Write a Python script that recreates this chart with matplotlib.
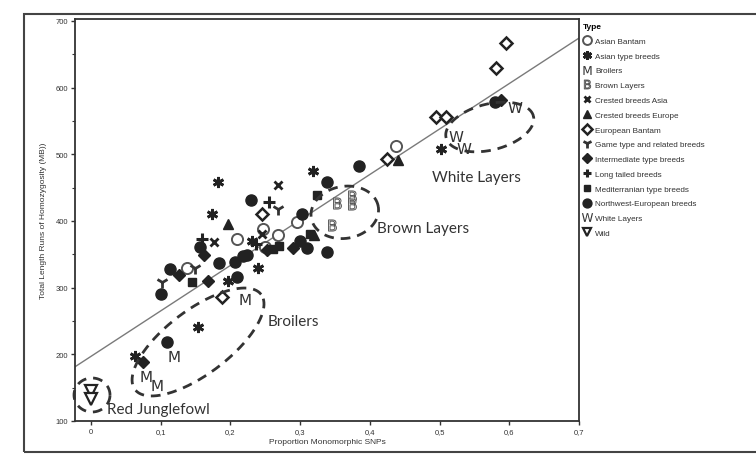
import numpy as np
import matplotlib
matplotlib.use("Agg")
import matplotlib.pyplot as plt
from matplotlib.patches import Rectangle

# ---------------- data ----------------
asian_bantam_x = [0.138, 0.209, 0.247, 0.250, 0.268, 0.295, 0.438]
asian_bantam_y = [329, 373, 388, 361, 379, 398, 512]

asian_type_x = [0.182, 0.174, 0.318, 0.502, 0.154, 0.063, 0.240, 0.231, 0.197]
asian_type_y = [459, 410, 475, 508, 241, 197, 329, 370, 310]

broilers_x = [0.221, 0.119, 0.079, 0.094]
broilers_y = [283, 197, 167, 154]

brown_x = [0.374, 0.353, 0.374, 0.346]
brown_y = [438, 427, 425, 394]

crested_asia_x = [0.268, 0.176, 0.245]
crested_asia_y = [454, 369, 380]

crested_europe_x = [0.197, 0.440, 0.320]
crested_europe_y = [395, 492, 379]

european_bantam_x = [0.595, 0.581, 0.495, 0.509, 0.425, 0.245, 0.188]
european_bantam_y = [667, 630, 556, 556, 493, 410, 286]

game_x = [0.268, 0.149, 0.102]
game_y = [418, 329, 308]

intermediate_x = [0.162, 0.168, 0.075, 0.290, 0.588, 0.126, 0.253]
intermediate_y = [349, 310, 188, 359, 582, 319, 357]

long_tailed_x = [0.255, 0.159, 0.236]
long_tailed_y = [428, 373, 366]

mediterranean_x = [0.145, 0.324, 0.261, 0.314, 0.270]
mediterranean_y = [308, 439, 358, 380, 362]

nw_x = [0.229, 0.385, 0.339, 0.303, 0.156, 0.184, 0.113, 0.100, 0.109, 0.207,
        0.224, 0.300, 0.310, 0.339, 0.209, 0.580, 0.218]
nw_y = [432, 483, 458, 410, 361, 337, 328, 290, 218, 338,
        349, 370, 359, 353, 316, 579, 348]

white_x = [0.608, 0.524, 0.535]
white_y = [571, 527, 509]

wild_x = [0.0, 0.0]
wild_y = [145, 133]

fit_intercept = 197
fit_slope = 682

x_ticks = [0, 0.1, 0.2, 0.3, 0.4, 0.5, 0.6, 0.7]
x_tick_labels = ["0", "0,1", "0,2", "0,3", "0,4", "0,5", "0,6", "0,7"]
y_ticks = [100, 200, 300, 400, 500, 600, 700]

# group annotations: label, label position, ellipse centre (data), semi axes (px), angle (deg)
group_labels = ["Red Junglefowl", "Broilers", "Brown Layers", "White Layers"]
label_x = [0.023, 0.254, 0.410, 0.489]
label_y = [118, 250, 389, 466]
ell_cx = [0.0014, 0.1535, 0.364, 0.572]
ell_cy = [139, 218.5, 413, 541]
ell_a = [18, 79, 34, 45]
ell_b = [17, 32, 26, 23]
ell_ang = [0, 37, 10, 14]

# ---------------- figure ----------------
W, H = 756, 456
fig = plt.figure(figsize=(W / 100, H / 100), dpi=100)
ax = fig.add_axes([75 / W, (H - 422) / H, (579 - 75) / W, (422 - 20) / H])
XMIN, XMAX, YMIN, YMAX = -0.023, 0.700, 100, 703
ax.set_xlim(XMIN, XMAX)
ax.set_ylim(YMIN, YMAX)
px_per_x = (579 - 75) / (XMAX - XMIN)
px_per_y = (422 - 20) / (YMAX - YMIN)

tick_font = "Liberation Sans"
dark = "#222222"

# regression line
xl = np.array([XMIN, XMAX])
ax.plot(xl, fit_intercept + fit_slope * xl, color="#7a7a7a", lw=1.0, zorder=1)

common = dict(linestyle="none")
h = []
h.append(ax.plot(asian_bantam_x, asian_bantam_y, marker="o", ms=8, mfc="white",
                 mec="#555555", mew=1.4, label="Asian Bantam", **common)[0])
h.append(ax.plot(asian_type_x, asian_type_y, marker=(6, 2, 0), ms=8, mec=dark,
                 mew=2.0, label="Asian type breeds", **common)[0])
h.append(ax.plot(broilers_x, broilers_y, marker=r"$\mathrm{M}$", ms=8, color="#333333",
                 mew=0.0, label="Broilers", **common)[0])
h.append(ax.plot(brown_x, brown_y, marker=r"$\mathrm{B}$", ms=8, mfc="white",
                 mec="#555555", mew=0.7, label="Brown Layers", **common)[0])
h.append(ax.plot(crested_asia_x, crested_asia_y, marker="x", ms=6, mec=dark,
                 mew=2.0, label="Crested breeds Asia", **common)[0])
h.append(ax.plot(crested_europe_x, crested_europe_y, marker="^", ms=7, color=dark,
                 label="Crested breeds Europe", **common)[0])
h.append(ax.plot(european_bantam_x, european_bantam_y, marker="D", ms=6, mfc="white",
                 mec=dark, mew=1.8, label="European Bantam", **common)[0])
h.append(ax.plot(game_x, game_y, marker="1", ms=9, mec="#333333", mew=2.0,
                 label="Game type and related breeds", **common)[0])
h.append(ax.plot(intermediate_x, intermediate_y, marker="D", ms=6, color=dark,
                 label="Intermediate type breeds", **common)[0])
h.append(ax.plot(long_tailed_x, long_tailed_y, marker="+", ms=8, mec=dark, mew=2.2,
                 label="Long tailed breeds", **common)[0])
h.append(ax.plot(mediterranean_x, mediterranean_y, marker="s", ms=6, color=dark,
                 label="Mediterranian type breeds", **common)[0])
h.append(ax.plot(nw_x, nw_y, marker="o", ms=8, color=dark,
                 label="Northwest-European breeds", **common)[0])
h.append(ax.plot(white_x, white_y, marker=r"$\mathrm{W}$", ms=10, color="#333333",
                 mew=0.0, label="White Layers", **common)[0])
h.append(ax.plot(wild_x, wild_y, marker="v", ms=8, mfc="white", mec=dark, mew=1.6,
                 label="Wild", **common)[0])

# dashed ellipses (defined in pixel space around data centres)
t = np.linspace(0, 2 * np.pi, 300)
for cx, cy, a, b, ang in zip(ell_cx, ell_cy, ell_a, ell_b, ell_ang):
    th = np.deg2rad(ang)
    dx = a * np.cos(t) * np.cos(th) - b * np.sin(t) * np.sin(th)
    dy = a * np.cos(t) * np.sin(th) + b * np.sin(t) * np.cos(th)
    ax.plot(cx + dx / px_per_x, cy + dy / px_per_y, color="#333333", lw=2.0,
            dashes=(3.5, 2.5), zorder=3, clip_on=False)

for lab, lx, ly in zip(group_labels, label_x, label_y):
    ax.text(lx, ly, lab, fontsize=11, family="Lato", color="#333333",
            ha="left", va="center")

# axes styling
for s in ax.spines.values():
    s.set_color("#333333")
    s.set_linewidth(1.3)
ax.set_xticks(x_ticks)
ax.set_xticklabels(x_tick_labels)
ax.set_yticks(y_ticks)
ax.set_yticks(np.arange(150, 700, 100), minor=True)
ax.tick_params(axis="both", which="major", labelsize=5.5, length=3, width=1,
               color="#333333", labelcolor="#333333", pad=2)
ax.tick_params(axis="y", which="minor", length=2, width=0.8, color="#333333")
for lbl in ax.get_xticklabels() + ax.get_yticklabels():
    lbl.set_family(tick_font)
ax.set_xlabel("Proportion Monomorphic SNPs", fontsize=6, family=tick_font,
              color="#333333", labelpad=2)
ax.set_ylabel("Total Length Runs of Homozygosity (MB))", fontsize=6,
              family=tick_font, color="#333333", labelpad=6)

leg = ax.legend(handles=h, loc="upper left", bbox_to_anchor=(1.0, 1.0),
                frameon=False, title="Type",
                prop={"family": tick_font, "size": 5.9},
                handlelength=1.0, handletextpad=0.5, labelspacing=0.86,
                borderaxespad=0.2, borderpad=0.3, markerscale=0.8,
                alignment="left")
leg.get_title().set_fontsize(6)
leg.get_title().set_fontweight("bold")
leg.get_title().set_family(tick_font)
for txt in leg.get_texts():
    txt.set_color("#333333")

# outer frame of the scanned figure
fig.patches.append(Rectangle((24 / W, (H - 453) / H), (W + 10 - 24) / W,
                             (453 - 15) / H, transform=fig.transFigure,
                             fill=False, ec="#444444", lw=1.5, clip_on=False))

fig.savefig("out.png", dpi=100, facecolor="white")
